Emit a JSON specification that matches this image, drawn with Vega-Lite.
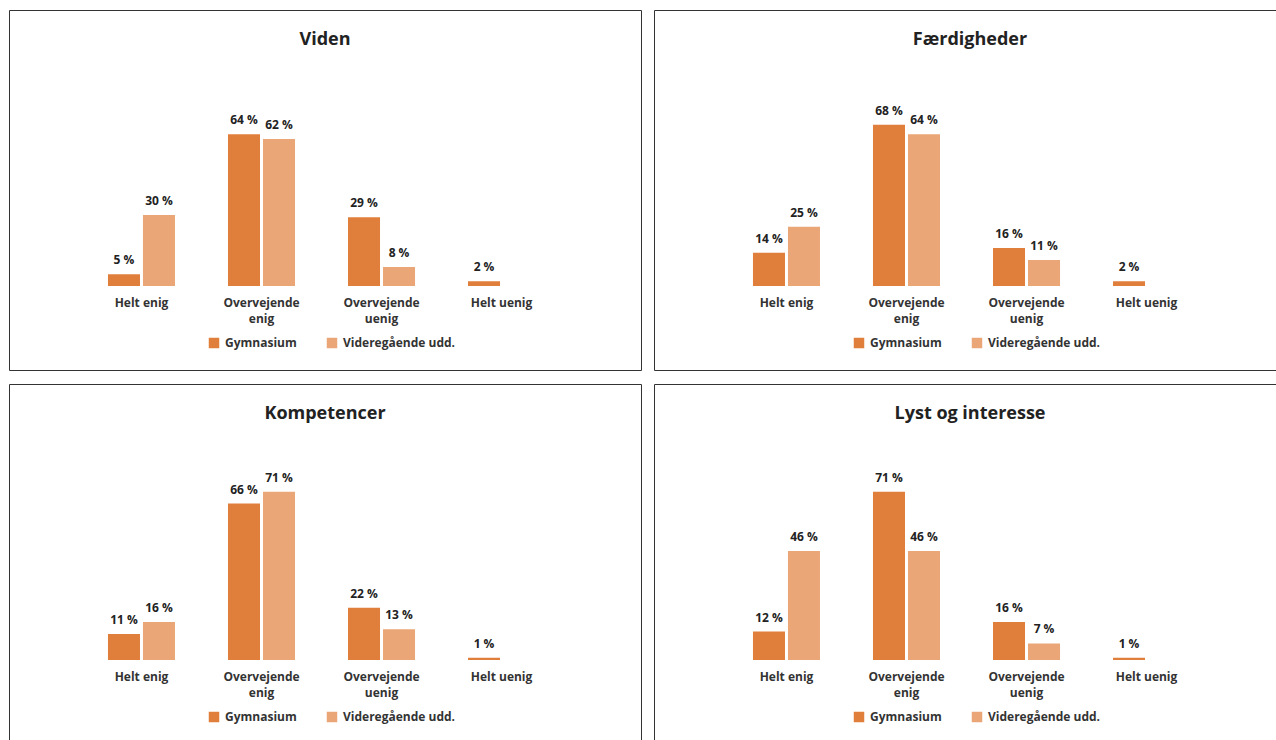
{
  "$schema": "https://vega.github.io/schema/vega-lite/v6.json",
  "background": "white",
  "padding": {"left": 8, "top": 9, "right": 0, "bottom": 0},
  "datasets": {
    "d": [
      {"panel": "Viden", "cat": "Helt enig", "group": "Gymnasium", "value": 5, "label": "5 %"},
      {"panel": "Viden", "cat": "Helt enig", "group": "Videregående udd.", "value": 30, "label": "30 %"},
      {"panel": "Viden", "cat": "Overvejende|enig", "group": "Gymnasium", "value": 64, "label": "64 %"},
      {"panel": "Viden", "cat": "Overvejende|enig", "group": "Videregående udd.", "value": 62, "label": "62 %"},
      {"panel": "Viden", "cat": "Overvejende|uenig", "group": "Gymnasium", "value": 29, "label": "29 %"},
      {"panel": "Viden", "cat": "Overvejende|uenig", "group": "Videregående udd.", "value": 8, "label": "8 %"},
      {"panel": "Viden", "cat": "Helt uenig", "group": "Gymnasium", "value": 2, "label": "2 %"},
      {"panel": "Færdigheder", "cat": "Helt enig", "group": "Gymnasium", "value": 14, "label": "14 %"},
      {"panel": "Færdigheder", "cat": "Helt enig", "group": "Videregående udd.", "value": 25, "label": "25 %"},
      {"panel": "Færdigheder", "cat": "Overvejende|enig", "group": "Gymnasium", "value": 68, "label": "68 %"},
      {"panel": "Færdigheder", "cat": "Overvejende|enig", "group": "Videregående udd.", "value": 64, "label": "64 %"},
      {"panel": "Færdigheder", "cat": "Overvejende|uenig", "group": "Gymnasium", "value": 16, "label": "16 %"},
      {"panel": "Færdigheder", "cat": "Overvejende|uenig", "group": "Videregående udd.", "value": 11, "label": "11 %"},
      {"panel": "Færdigheder", "cat": "Helt uenig", "group": "Gymnasium", "value": 2, "label": "2 %"},
      {"panel": "Kompetencer", "cat": "Helt enig", "group": "Gymnasium", "value": 11, "label": "11 %"},
      {"panel": "Kompetencer", "cat": "Helt enig", "group": "Videregående udd.", "value": 16, "label": "16 %"},
      {"panel": "Kompetencer", "cat": "Overvejende|enig", "group": "Gymnasium", "value": 66, "label": "66 %"},
      {"panel": "Kompetencer", "cat": "Overvejende|enig", "group": "Videregående udd.", "value": 71, "label": "71 %"},
      {"panel": "Kompetencer", "cat": "Overvejende|uenig", "group": "Gymnasium", "value": 22, "label": "22 %"},
      {"panel": "Kompetencer", "cat": "Overvejende|uenig", "group": "Videregående udd.", "value": 13, "label": "13 %"},
      {"panel": "Kompetencer", "cat": "Helt uenig", "group": "Gymnasium", "value": 1, "label": "1 %"},
      {"panel": "Lyst og interesse", "cat": "Helt enig", "group": "Gymnasium", "value": 12, "label": "12 %"},
      {"panel": "Lyst og interesse", "cat": "Helt enig", "group": "Videregående udd.", "value": 46, "label": "46 %"},
      {"panel": "Lyst og interesse", "cat": "Overvejende|enig", "group": "Gymnasium", "value": 71, "label": "71 %"},
      {"panel": "Lyst og interesse", "cat": "Overvejende|enig", "group": "Videregående udd.", "value": 46, "label": "46 %"},
      {"panel": "Lyst og interesse", "cat": "Overvejende|uenig", "group": "Gymnasium", "value": 16, "label": "16 %"},
      {"panel": "Lyst og interesse", "cat": "Overvejende|uenig", "group": "Videregående udd.", "value": 7, "label": "7 %"},
      {"panel": "Lyst og interesse", "cat": "Helt uenig", "group": "Gymnasium", "value": 1, "label": "1 %"}
    ]
  },
  "config": {
    "font": "Open Sans",
    "view": {"stroke": "#333333", "strokeWidth": 1},
    "title": {"font": "Open Sans", "fontSize": 18, "fontWeight": "bold", "color": "#222222", "offset": -39, "anchor": "middle"},
    "axis": {"labelFont": "Open Sans", "labelFontSize": 12, "labelFontWeight": "bold", "labelColor": "#333333"},
    "legend": {"labelFont": "Open Sans", "labelFontSize": 12, "labelFontWeight": "bold", "labelColor": "#333333"}
  },
  "resolve": {"legend": {"color": "independent"}, "scale": {"color": "independent"}},
  "spacing": 12,
  "vconcat": [
    {
      "spacing": 11,
      "resolve": {"legend": {"color": "independent"}, "scale": {"color": "independent"}},
      "hconcat": [
        {
          "title": "Viden",
          "width": 632, "height": 360,
          "data": {"name": "d"},
          "transform": [{"filter": "datum.panel === 'Viden'"}],
          "encoding": {
            "x": {"field": "cat", "type": "nominal", "sort": ["Helt enig", "Overvejende|enig", "Overvejende|uenig", "Helt uenig"], "scale": {"paddingInner": 0, "paddingOuter": 0.633, "align": 0.477}, "axis": {"title": null, "orient": "bottom", "offset": -75, "domain": false, "ticks": false, "labelPadding": 2, "labelAngle": 0, "labelExpr": "split(datum.value, '|')", "labelLineHeight": 16, "labelBaseline": "top"}},
            "xOffset": {"field": "group", "type": "nominal", "sort": ["Gymnasium", "Videregående udd."], "scale": {"paddingInner": 0.0857, "paddingOuter": 0.757}},
            "y": {"field": "value", "type": "quantitative", "scale": {"domain": [-35.44, 116.46], "nice": false, "zero": false}, "axis": null}
          },
          "layer": [
            {"mark": {"type": "bar"}, "encoding": {"y2": {"datum": 0}, "color": {"field": "group", "type": "nominal", "sort": ["Gymnasium", "Videregående udd."], "scale": {"domain": ["Gymnasium", "Videregående udd."], "range": ["#E07E3C", "#EAA676"]}, "legend": {"title": null, "orient": "none", "legendX": 199, "legendY": 327, "direction": "horizontal", "symbolType": "square", "symbolSize": 110, "symbolStrokeWidth": 0, "labelOffset": 5, "columnPadding": 29, "padding": 0}}}},
            {"mark": {"type": "text", "baseline": "bottom", "dy": -7, "fontSize": 12, "fontWeight": "bold", "color": "#222222"}, "encoding": {"text": {"field": "label"}}}
          ]
        },
        {
          "title": "Færdigheder",
          "width": 632, "height": 360,
          "data": {"name": "d"},
          "transform": [{"filter": "datum.panel === 'Færdigheder'"}],
          "encoding": {
            "x": {"field": "cat", "type": "nominal", "sort": ["Helt enig", "Overvejende|enig", "Overvejende|uenig", "Helt uenig"], "scale": {"paddingInner": 0, "paddingOuter": 0.633, "align": 0.477}, "axis": {"title": null, "orient": "bottom", "offset": -75, "domain": false, "ticks": false, "labelPadding": 2, "labelAngle": 0, "labelExpr": "split(datum.value, '|')", "labelLineHeight": 16, "labelBaseline": "top"}},
            "xOffset": {"field": "group", "type": "nominal", "sort": ["Gymnasium", "Videregående udd."], "scale": {"paddingInner": 0.0857, "paddingOuter": 0.757}},
            "y": {"field": "value", "type": "quantitative", "scale": {"domain": [-35.44, 116.46], "nice": false, "zero": false}, "axis": null}
          },
          "layer": [
            {"mark": {"type": "bar"}, "encoding": {"y2": {"datum": 0}, "color": {"field": "group", "type": "nominal", "sort": ["Gymnasium", "Videregående udd."], "scale": {"domain": ["Gymnasium", "Videregående udd."], "range": ["#E07E3C", "#EAA676"]}, "legend": {"title": null, "orient": "none", "legendX": 199, "legendY": 327, "direction": "horizontal", "symbolType": "square", "symbolSize": 110, "symbolStrokeWidth": 0, "labelOffset": 5, "columnPadding": 29, "padding": 0}}}},
            {"mark": {"type": "text", "baseline": "bottom", "dy": -7, "fontSize": 12, "fontWeight": "bold", "color": "#222222"}, "encoding": {"text": {"field": "label"}}}
          ]
        }
      ]
    },
    {
      "spacing": 11,
      "resolve": {"legend": {"color": "independent"}, "scale": {"color": "independent"}},
      "hconcat": [
        {
          "title": "Kompetencer",
          "width": 632, "height": 360,
          "data": {"name": "d"},
          "transform": [{"filter": "datum.panel === 'Kompetencer'"}],
          "encoding": {
            "x": {"field": "cat", "type": "nominal", "sort": ["Helt enig", "Overvejende|enig", "Overvejende|uenig", "Helt uenig"], "scale": {"paddingInner": 0, "paddingOuter": 0.633, "align": 0.477}, "axis": {"title": null, "orient": "bottom", "offset": -75, "domain": false, "ticks": false, "labelPadding": 2, "labelAngle": 0, "labelExpr": "split(datum.value, '|')", "labelLineHeight": 16, "labelBaseline": "top"}},
            "xOffset": {"field": "group", "type": "nominal", "sort": ["Gymnasium", "Videregående udd."], "scale": {"paddingInner": 0.0857, "paddingOuter": 0.757}},
            "y": {"field": "value", "type": "quantitative", "scale": {"domain": [-35.44, 116.46], "nice": false, "zero": false}, "axis": null}
          },
          "layer": [
            {"mark": {"type": "bar"}, "encoding": {"y2": {"datum": 0}, "color": {"field": "group", "type": "nominal", "sort": ["Gymnasium", "Videregående udd."], "scale": {"domain": ["Gymnasium", "Videregående udd."], "range": ["#E07E3C", "#EAA676"]}, "legend": {"title": null, "orient": "none", "legendX": 199, "legendY": 327, "direction": "horizontal", "symbolType": "square", "symbolSize": 110, "symbolStrokeWidth": 0, "labelOffset": 5, "columnPadding": 29, "padding": 0}}}},
            {"mark": {"type": "text", "baseline": "bottom", "dy": -7, "fontSize": 12, "fontWeight": "bold", "color": "#222222"}, "encoding": {"text": {"field": "label"}}}
          ]
        },
        {
          "title": "Lyst og interesse",
          "width": 632, "height": 360,
          "data": {"name": "d"},
          "transform": [{"filter": "datum.panel === 'Lyst og interesse'"}],
          "encoding": {
            "x": {"field": "cat", "type": "nominal", "sort": ["Helt enig", "Overvejende|enig", "Overvejende|uenig", "Helt uenig"], "scale": {"paddingInner": 0, "paddingOuter": 0.633, "align": 0.477}, "axis": {"title": null, "orient": "bottom", "offset": -75, "domain": false, "ticks": false, "labelPadding": 2, "labelAngle": 0, "labelExpr": "split(datum.value, '|')", "labelLineHeight": 16, "labelBaseline": "top"}},
            "xOffset": {"field": "group", "type": "nominal", "sort": ["Gymnasium", "Videregående udd."], "scale": {"paddingInner": 0.0857, "paddingOuter": 0.757}},
            "y": {"field": "value", "type": "quantitative", "scale": {"domain": [-35.44, 116.46], "nice": false, "zero": false}, "axis": null}
          },
          "layer": [
            {"mark": {"type": "bar"}, "encoding": {"y2": {"datum": 0}, "color": {"field": "group", "type": "nominal", "sort": ["Gymnasium", "Videregående udd."], "scale": {"domain": ["Gymnasium", "Videregående udd."], "range": ["#E07E3C", "#EAA676"]}, "legend": {"title": null, "orient": "none", "legendX": 199, "legendY": 327, "direction": "horizontal", "symbolType": "square", "symbolSize": 110, "symbolStrokeWidth": 0, "labelOffset": 5, "columnPadding": 29, "padding": 0}}}},
            {"mark": {"type": "text", "baseline": "bottom", "dy": -7, "fontSize": 12, "fontWeight": "bold", "color": "#222222"}, "encoding": {"text": {"field": "label"}}}
          ]
        }
      ]
    }
  ]
}
